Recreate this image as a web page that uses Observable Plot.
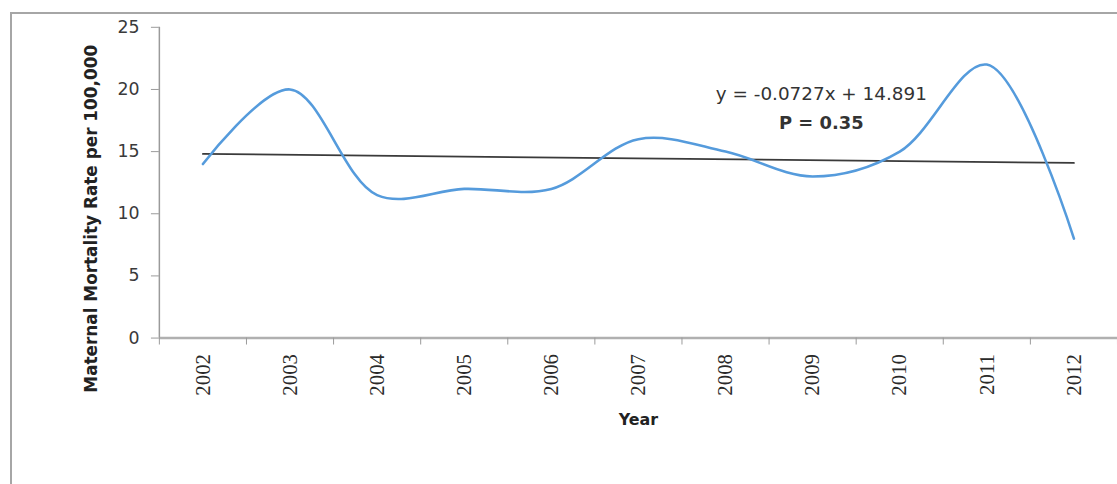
<!DOCTYPE html>
<html>
<head>
<meta charset="utf-8">
<script src="https://cdn.jsdelivr.net/npm/d3@7"></script>
<script src="https://cdn.jsdelivr.net/npm/@observablehq/plot@0.6"></script>
<style>
  html, body { margin: 0; padding: 0; background: #fff; overflow: hidden; }
  #wrap { position: relative; width: 1117px; height: 484px; overflow: hidden; }
  #border { position: absolute; left: 10px; top: 12px; width: 1200px; height: 600px;
            border-left: 2px solid #a6a6a6; border-top: 2px solid #a6a6a6; }
  #chart { position: absolute; left: 0; top: 0; }
</style>
</head>
<body>
<div id="wrap"><div id="border"></div><div id="chart"></div></div>
<script>
// ---- data ----
const years = [2002, 2003, 2004, 2005, 2006, 2007, 2008, 2009, 2010, 2011, 2012];
const rates = [14, 20, 11.5, 12, 12, 16, 15, 13, 15, 22, 8];
const yTicks = [0, 5, 10, 15, 20, 25];
const slope = -0.0727;
const intercept = 14.891;
const equationText = "y = -0.0727x + 14.891";
const pText = "P = 0.35";
const xTitle = "Year";
const yTitle = "Maternal Mortality Rate per 100,000";
const annotationYear = 2009.1;
const equationValue = 19.6;
const pValue = 17.3;
const yTitleYear = 2000.72;
const yTitleValue = 9.6;

const series = years.map((yr, i) => ({year: yr, rate: rates[i]}));
const trend = [years[0], years[years.length - 1]].map(yr => ({
  year: yr, rate: intercept + slope * (yr - years[0] + 1)
}));
const boundaries = d3.range(years[0] - 0.5, years[years.length - 1] + 1, 1);

const plot = Plot.plot({
  width: 1125,
  height: 484,
  marginLeft: 160,
  marginRight: 0,
  marginTop: 27,
  marginBottom: 144,
  style: {background: "transparent", overflow: "visible"},
  x: {domain: [years[0] - 0.5, years[years.length - 1] + 0.5]},
  y: {domain: [0, 25]},
  marks: [
    // x axis line
    Plot.ruleY([0], {stroke: "#b0b0b0", strokeWidth: 2.5}),
    // y axis line
    Plot.ruleX([years[0] - 0.5], {stroke: "#9a9a9a", strokeWidth: 1.5}),
    Plot.axisY({ticks: yTicks, tickSize: 8, tickPadding: 12, label: null,
      fontSize: 17.5, fontFamily: "DejaVu Sans", fill: "#3a3a3a", stroke: "#9a9a9a"}),
    Plot.axisX({ticks: boundaries, tickSize: 7, tickFormat: () => "", label: null,
      stroke: "#9a9a9a"}),
    Plot.axisX({ticks: years, tickSize: 0, tickPadding: 16, tickRotate: -90,
      tickFormat: d => String(d), label: null,
      fontSize: 21, fontFamily: "Liberation Serif", fill: "#2a2a2a"}),
    Plot.line(trend, {x: "year", y: "rate", stroke: "#3a3a3a", strokeWidth: 1.8}),
    Plot.line(series, {x: "year", y: "rate", stroke: "#559bdc", strokeWidth: 2.6,
      curve: "catmull-rom"}),
    Plot.text([equationText], {x: () => annotationYear, y: () => equationValue,
      text: d => d, fontSize: 18.5, fontFamily: "DejaVu Sans", fill: "#333"}),
    Plot.text([pText], {x: () => annotationYear, y: () => pValue,
      text: d => d, fontSize: 18, fontWeight: "bold", fontFamily: "DejaVu Sans", fill: "#333"}),
    Plot.text([xTitle], {frameAnchor: "bottom", dy: 88, text: d => d,
      fontSize: 16, fontWeight: "bold", fontFamily: "DejaVu Sans", fill: "#222"}),
    Plot.text([yTitle], {x: () => yTitleYear, y: () => yTitleValue, rotate: -90, text: d => d,
      fontSize: 17, fontWeight: "bold", fontFamily: "DejaVu Sans", fill: "#222"})
  ]
});
// make sure year tick labels use a serif face
d3.select(plot).selectAll("text")
  .filter(function () { return /^20\d\d$/.test(this.textContent); })
  .style("font-family", "'Liberation Serif', 'DejaVu Serif', serif");
document.getElementById("chart").appendChild(plot);
</script>
</body>
</html>
